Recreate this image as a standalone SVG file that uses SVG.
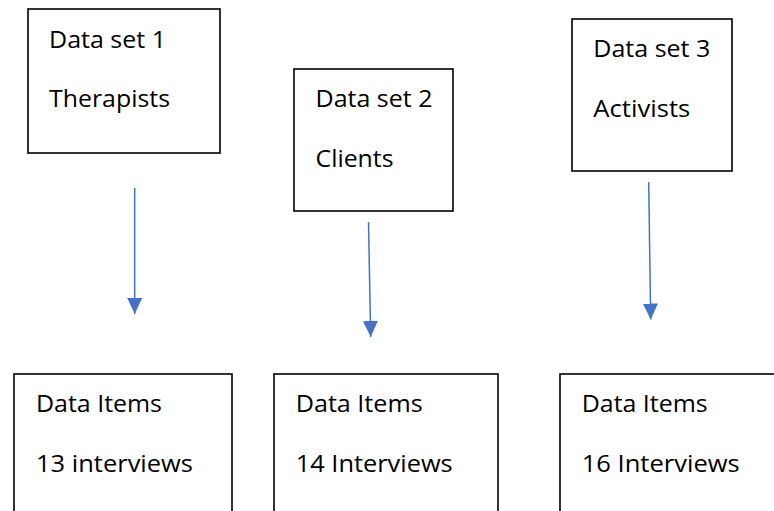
<svg xmlns="http://www.w3.org/2000/svg" width="774" height="511" viewBox="0 0 774 511">
  <style>
    .box { fill: #ffffff; stroke: #000000; stroke-width: 1.6; }
    .lbl { font-family: "Open Sans", "Liberation Sans", sans-serif; font-size: 24px; fill: #000000; }
    .link { stroke: #4472C4; stroke-width: 1.5; fill: none; marker-end: url(#head); }
  </style>
  <defs>
    <marker id="head" markerUnits="userSpaceOnUse" markerWidth="16" markerHeight="15" viewBox="0 0 16 15" refX="16" refY="7.5" orient="auto">
      <path d="M0,0 L16,7.5 L0,15 Z" fill="#4472C4"/>
    </marker>
  </defs>
  <rect width="774" height="511" fill="#ffffff"/>

  <g id="dataset1">
    <rect class="box" x="28" y="9" width="192" height="144" stroke-width="2"/>
    <text class="lbl" x="49" y="48" textLength="117" lengthAdjust="spacingAndGlyphs">Data set 1</text>
    <text class="lbl" x="49" y="107" textLength="121" lengthAdjust="spacingAndGlyphs">Therapists</text>
  </g>

  <g id="dataset2">
    <rect class="box" x="294" y="69" width="159" height="142"/>
    <text class="lbl" x="315.5" y="107" textLength="117" lengthAdjust="spacingAndGlyphs">Data set 2</text>
    <text class="lbl" x="315.5" y="167" textLength="78" lengthAdjust="spacingAndGlyphs">Clients</text>
  </g>

  <g id="dataset3">
    <rect class="box" x="572" y="19" width="160" height="152"/>
    <text class="lbl" x="593.3" y="57" textLength="117" lengthAdjust="spacingAndGlyphs">Data set 3</text>
    <text class="lbl" x="593.3" y="117" textLength="97" lengthAdjust="spacingAndGlyphs">Activists</text>
  </g>

  <g id="items1">
    <rect class="box" x="14" y="374" width="218" height="150"/>
    <text class="lbl" x="36" y="412" textLength="126" lengthAdjust="spacingAndGlyphs">Data Items</text>
    <text class="lbl" x="36" y="472" textLength="157" lengthAdjust="spacingAndGlyphs">13 interviews</text>
  </g>

  <g id="items2">
    <rect class="box" x="274" y="374" width="224" height="150"/>
    <text class="lbl" x="295.7" y="412" textLength="127" lengthAdjust="spacingAndGlyphs">Data Items</text>
    <text class="lbl" x="295.7" y="472" textLength="157" lengthAdjust="spacingAndGlyphs">14 Interviews</text>
  </g>

  <g id="items3">
    <rect class="box" x="560" y="374" width="230" height="150"/>
    <text class="lbl" x="581.7" y="412" textLength="126" lengthAdjust="spacingAndGlyphs">Data Items</text>
    <text class="lbl" x="581.7" y="472" textLength="158" lengthAdjust="spacingAndGlyphs">16 Interviews</text>
  </g>

  <g id="connectors">
    <line class="link" x1="134.7" y1="188" x2="134.7" y2="314"/>
    <line class="link" x1="368.5" y1="222" x2="370.7" y2="337"/>
    <line class="link" x1="648.7" y1="182" x2="650.7" y2="319.5"/>
  </g>
</svg>
